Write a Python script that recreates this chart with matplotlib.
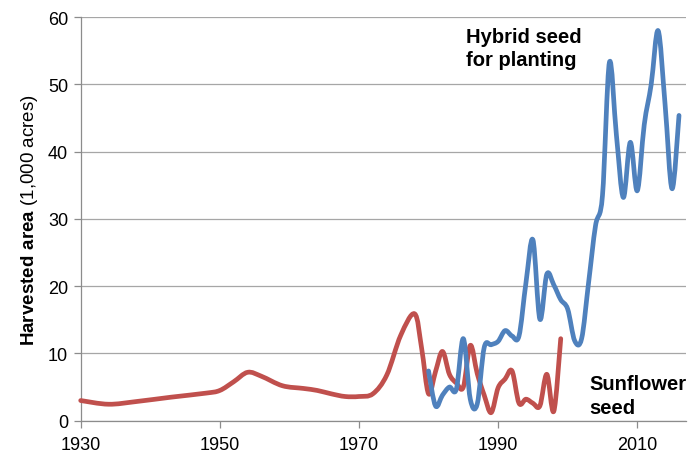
import numpy as np
import matplotlib
matplotlib.use("Agg")
import matplotlib.pyplot as plt
from matplotlib.path import Path
from matplotlib.patches import PathPatch

# ---- data ----
sun_years = [1930, 1934, 1938, 1943, 1948, 1950, 1952, 1954, 1956, 1959, 1962,
             1964, 1966, 1968, 1970, 1972, 1974, 1976, 1978, 1979, 1980, 1981,
             1982, 1983, 1984, 1985, 1986, 1987, 1988, 1989, 1990, 1991, 1992,
             1993, 1994, 1995, 1996, 1997, 1998, 1999]
sun_vals = [3.0, 2.45, 2.85, 3.5, 4.1, 4.5, 5.8, 7.2, 6.6, 5.2, 4.8,
            4.5, 4.0, 3.6, 3.6, 4.0, 6.8, 12.7, 15.9, 10.8, 4.0, 7.3,
            10.3, 6.9, 5.6, 5.0, 11.2, 7.0, 3.8, 1.2, 4.9, 6.2, 7.4,
            2.6, 3.2, 2.6, 2.2, 6.9, 1.4, 12.2]

hyb_years = list(range(1980, 2017))
hyb_vals = [7.4, 2.2, 3.8, 5.0, 4.7, 12.2, 3.2, 2.5, 10.9, 11.3, 11.8, 13.4,
            12.6, 12.6, 20.5, 26.9, 15.1, 21.8, 20.2, 18.0, 16.6, 11.9, 12.2,
            20.5, 29.0, 33.5, 53.3, 42.5, 33.2, 41.4, 34.2, 44.0, 50.0, 58.0,
            47.0, 34.5, 45.4]

x_ticks = [1930, 1950, 1970, 1990, 2010]
y_ticks = [0, 10, 20, 30, 40, 50, 60]

BLUE = "#4F81BD"
RED = "#C0504D"

plt.rcParams['font.family'] = ['Liberation Sans', 'DejaVu Sans']
plt.rcParams['mathtext.fontset'] = 'custom'
plt.rcParams['mathtext.rm'] = 'Liberation Sans'
plt.rcParams['mathtext.bf'] = 'Liberation Sans:bold'


def smooth_path(xs, ys):
    pts = np.column_stack([xs, ys]).astype(float)
    n = len(pts)
    verts = [pts[0]]
    codes = [Path.MOVETO]
    for i in range(n - 1):
        p0 = pts[i - 1] if i > 0 else pts[i]
        p1 = pts[i]
        p2 = pts[i + 1]
        p3 = pts[i + 2] if i + 2 < n else pts[i + 1]
        c1 = p1 + (p2 - p0) / 6.0
        c2 = p2 - (p3 - p1) / 6.0
        verts += [c1, c2, p2]
        codes += [Path.CURVE4] * 3
    return Path(verts, codes)


fig = plt.figure(figsize=(6.95, 4.56), dpi=100)
ax = fig.add_axes([0.1161, 0.0752, 0.8709, 0.8848])

ax.set_xlim(1930, 2017)
ax.set_ylim(0, 60)
ax.set_xticks(x_ticks)
ax.set_yticks(y_ticks)

ax.grid(axis='y', color='#A6A6A6', linewidth=0.9)
ax.set_axisbelow(True)
for s in ['top', 'right']:
    ax.spines[s].set_visible(False)
for s in ['left', 'bottom']:
    ax.spines[s].set_color('#8C8C8C')
    ax.spines[s].set_linewidth(0.9)
ax.tick_params(axis='both', colors='#8C8C8C', labelcolor='black',
               labelsize=13, length=5, width=0.9, direction='out')
ax.tick_params(axis='x', pad=6)
ax.tick_params(axis='y', pad=4)

for xs, ys, col in [(sun_years, sun_vals, RED), (hyb_years, hyb_vals, BLUE)]:
    patch = PathPatch(smooth_path(xs, ys), facecolor='none', edgecolor=col,
                      linewidth=3.4, capstyle='round', joinstyle='round',
                      clip_on=False, zorder=3)
    ax.add_patch(patch)

ax.set_ylabel(r'$\mathbf{Harvested\ area}$ (1,000 acres)', fontsize=13.5,
              labelpad=6)

ax.text(1985.4, 58.6, 'Hybrid seed\nfor planting', fontsize=14.5,
        fontweight='bold', ha='left', va='top', linespacing=1.3)
ax.text(2003.1, 6.9, 'Sunflower\nseed', fontsize=14.5,
        fontweight='bold', ha='left', va='top', linespacing=1.3)

fig.savefig('out.png', dpi=100)
